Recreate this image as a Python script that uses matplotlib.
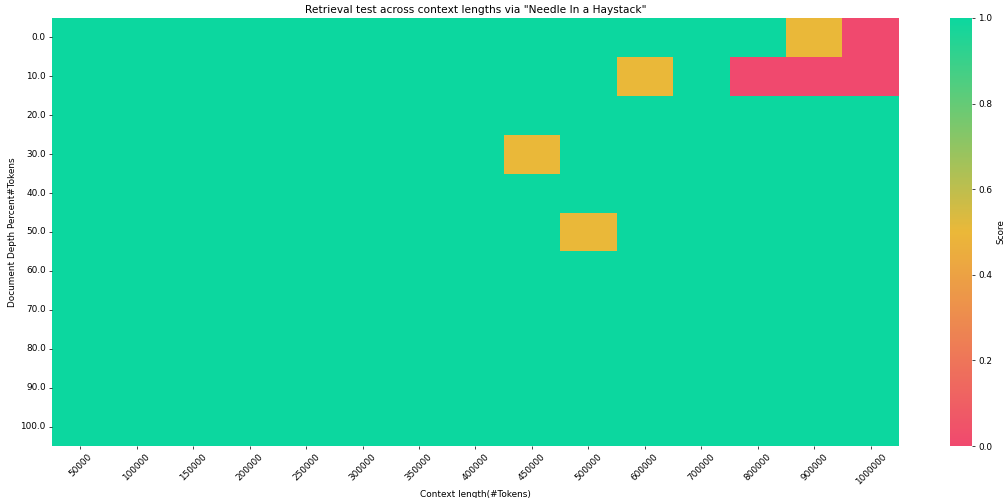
import matplotlib
matplotlib.use("Agg")
import matplotlib.pyplot as plt
from matplotlib.colors import LinearSegmentedColormap
import numpy as np
import pandas as pd
import seaborn as sns

context_lengths = [50000, 100000, 150000, 200000, 250000, 300000, 350000,
                   400000, 450000, 500000, 600000, 700000, 800000, 900000,
                   1000000]
depths = [0.0, 10.0, 20.0, 30.0, 40.0, 50.0, 60.0, 70.0, 80.0, 90.0, 100.0]

# scores below 1.0: (depth, context length, score)
misses = [
    (0.0, 900000, 0.5),
    (0.0, 1000000, 0.0),
    (10.0, 600000, 0.5),
    (10.0, 800000, 0.0),
    (10.0, 900000, 0.0),
    (10.0, 1000000, 0.0),
    (30.0, 450000, 0.5),
    (50.0, 500000, 0.5),
]

scores = pd.DataFrame(np.ones((len(depths), len(context_lengths))),
                      index=depths, columns=context_lengths)
for d, c, s in misses:
    scores.loc[d, c] = s

cmap = LinearSegmentedColormap.from_list(
    "custom_cmap", ["#F0496E", "#EBB839", "#0CD79F"])

# drawn big at low dpi so the text comes out small like the original
fig = plt.figure(figsize=(1006 / 64, 498 / 64), dpi=64)
ax = fig.add_axes([0.0517, 0.1044, 0.8419, 0.8595])
cax = fig.add_axes([0.9443, 0.1044, 0.0219, 0.8595])

sns.heatmap(scores, ax=ax, cbar_ax=cax, cmap=cmap, vmin=0, vmax=1,
            cbar_kws={"label": "Score"})

ax.set_title('Retrieval test across context lengths via "Needle In a Haystack"')
ax.set_xlabel("Context length(#Tokens)")
ax.set_ylabel("Document Depth Percent#Tokens")
ax.set_xticklabels([str(c) for c in context_lengths], rotation=45)
ax.set_yticklabels([str(d) for d in depths], rotation=0)

fig.savefig("out.png", dpi=64)
